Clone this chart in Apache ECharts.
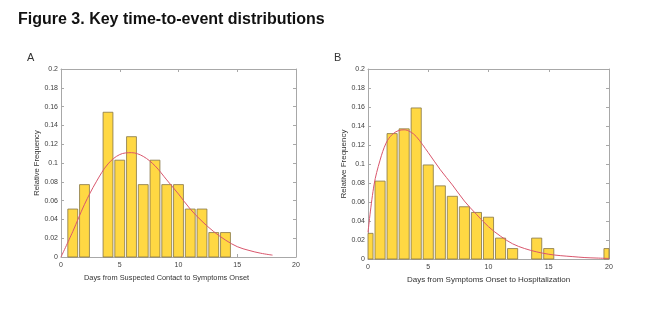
<!DOCTYPE html>
<html>
<head>
<meta charset="utf-8">
<script src="https://cdn.jsdelivr.net/npm/echarts@6/dist/echarts.min.js"></script>
<style>
  html, body { margin: 0; padding: 0; background: #ffffff; }
  #chart { width: 668px; height: 322px; }
</style>
</head>
<body>
<div id="chart"></div>
<script>
// Panel A: suspected contact -> symptom onset (relative frequency per day)
const daysA = [1, 2, 4, 5, 6, 7, 8, 9, 10, 11, 12, 13, 14];
const freqA = [0.051, 0.077, 0.154, 0.103, 0.128, 0.077, 0.103, 0.077, 0.077, 0.051, 0.051, 0.026, 0.026];
// fitted density for panel A
const fitXA = [0, 1, 2, 3, 4, 5, 6, 7, 8, 9, 10, 11, 12, 13, 14, 15, 16, 17, 18];
const fitYA = [0, 0.027, 0.056, 0.080, 0.099, 0.109, 0.111, 0.107, 0.097, 0.082, 0.067, 0.051, 0.038, 0.027, 0.018, 0.011, 0.007, 0.004, 0.002];

// Panel B: symptom onset -> hospitalization
const daysB = [0, 1, 2, 3, 4, 5, 6, 7, 8, 9, 10, 11, 12, 14, 15, 20];
const freqB = [0.027, 0.082, 0.132, 0.137, 0.159, 0.099, 0.077, 0.066, 0.055, 0.049, 0.044, 0.022, 0.011, 0.022, 0.011, 0.011];
// fitted density for panel B
const fitXB = [0, 0.5, 1, 1.5, 2, 2.5, 3, 3.5, 4, 5, 6, 7, 8, 9, 10, 11, 12, 13, 14, 15, 16, 17, 18, 19, 20];
const fitYB = [0.028, 0.078, 0.104, 0.122, 0.131, 0.135, 0.136, 0.134, 0.129, 0.112, 0.094, 0.078, 0.061, 0.047, 0.034, 0.024, 0.016, 0.011, 0.0075, 0.005, 0.0035, 0.0025, 0.0015, 0.001, 0.0006];

const xTickLabels = ['0', '5', '10', '15', '20'];
const yTickLabels = ['0', '0.02', '0.04', '0.06', '0.08', '0.1', '0.12', '0.14', '0.16', '0.18', '0.2'];

const titleText = 'Figure 3. Key time-to-event distributions';
const panelLetters = ['A', 'B'];
const xNames = ['Days from Suspected Contact to Symptoms Onset', 'Days from Symptoms Onset to Hospitalization'];
const yName = 'Relative Frequency';

const FONT = '"Liberation Sans", Arial, sans-serif';
const BOX = '#a8a8a8';
const LABEL = '#404040';
const BAR_FILL = '#ffd843';
const BAR_EDGE = '#857545';
const FIT = '#d9566c';
const BAR_SPAN = 0.84;   // bar width in days

const grids = [
  { left: 61, top: 69, width: 235, height: 188 },
  { left: 368, top: 69, width: 241, height: 190 }
];

function pairs(xs, ys) { return xs.map((x, i) => [x, ys[i]]); }

// histogram bar, clipped to the plot area so edge bins show only their inner half
function renderBar(params, api) {
  const x = api.value(0), y = api.value(1);
  const p0 = api.coord([x - BAR_SPAN / 2, y]);
  const p1 = api.coord([x + BAR_SPAN / 2, 0]);
  const cs = params.coordSys;
  const shape = echarts.graphic.clipRectByRect(
    { x: p0[0], y: p0[1], width: p1[0] - p0[0], height: p1[1] - p0[1] },
    { x: cs.x, y: cs.y, width: cs.width, height: cs.height }
  );
  if (!shape) return null;
  return {
    type: 'rect', shape: shape,
    style: { fill: BAR_FILL, stroke: BAR_EDGE, lineWidth: 0.8 }
  };
}

const xAxes = [], yAxes = [];
grids.forEach((g, gi) => {
  const common = {
    gridIndex: gi, type: 'value', min: 0, max: 20, interval: 5,
    splitLine: { show: false },
    axisLine: { show: true, onZero: false, lineStyle: { color: BOX, width: 1 } },
    axisTick: { show: true, inside: true, length: 3, lineStyle: { color: BOX } }
  };
  xAxes.push(Object.assign({}, common, {
    position: 'bottom',
    name: xNames[gi], nameLocation: 'middle', nameGap: 17,
    nameTextStyle: { fontFamily: FONT, fontSize: gi === 0 ? 7.4 : 8, color: '#333',
      padding: gi === 0 ? [0, 24, 0, 0] : [0, 0, 0, 0] },
    axisLabel: { fontFamily: FONT, fontSize: 7, color: LABEL, margin: 5,
      formatter: v => xTickLabels[Math.round(v / 5)] }
  }));
  xAxes.push(Object.assign({}, common, { position: 'top', axisLabel: { show: false } }));
  const ycommon = {
    gridIndex: gi, type: 'value', min: 0, max: 0.2, interval: 0.02,
    splitLine: { show: false },
    axisLine: { show: true, onZero: false, lineStyle: { color: BOX, width: 1 } },
    axisTick: { show: true, inside: true, length: 3, lineStyle: { color: BOX } }
  };
  yAxes.push(Object.assign({}, ycommon, {
    position: 'left',
    name: yName, nameLocation: 'middle', nameGap: gi === 0 ? 18 : 20, nameRotate: 90,
    nameTextStyle: { fontFamily: FONT, fontSize: gi === 0 ? 7.6 : 8, color: '#333' },
    axisLabel: { fontFamily: FONT, fontSize: 7, color: LABEL, margin: 3,
      formatter: v => yTickLabels[Math.round(v / 0.02)] }
  }));
  yAxes.push(Object.assign({}, ycommon, { position: 'right', axisLabel: { show: false } }));
});

const series = [];
[[daysA, freqA, fitXA, fitYA], [daysB, freqB, fitXB, fitYB]].forEach((d, gi) => {
  series.push({
    type: 'custom', xAxisIndex: gi * 2, yAxisIndex: gi * 2,
    data: pairs(d[0], d[1]), renderItem: renderBar,
    encode: { x: 0, y: 1 }, silent: true, animation: false
  });
  series.push({
    type: 'line', xAxisIndex: gi * 2, yAxisIndex: gi * 2,
    data: pairs(d[2], d[3]), smooth: 0.35, showSymbol: false, clip: true,
    lineStyle: { color: FIT, width: 1 }, silent: true, animation: false, z: 5
  });
});

const chart = echarts.init(document.getElementById('chart'), null, { renderer: 'canvas' });
chart.setOption({
  animation: false,
  backgroundColor: '#ffffff',
  grid: grids,
  xAxis: xAxes,
  yAxis: yAxes,
  series: series,
  graphic: [
    { type: 'text', left: 18, top: 12,
      style: { text: titleText, font: 'bold 16px ' + FONT, fill: '#111' } },
    { type: 'text', left: 27, top: 52,
      style: { text: panelLetters[0], font: '11px ' + FONT, fill: '#333' } },
    { type: 'text', left: 334, top: 52,
      style: { text: panelLetters[1], font: '11px ' + FONT, fill: '#333' } }
  ]
});
</script>
</body>
</html>
